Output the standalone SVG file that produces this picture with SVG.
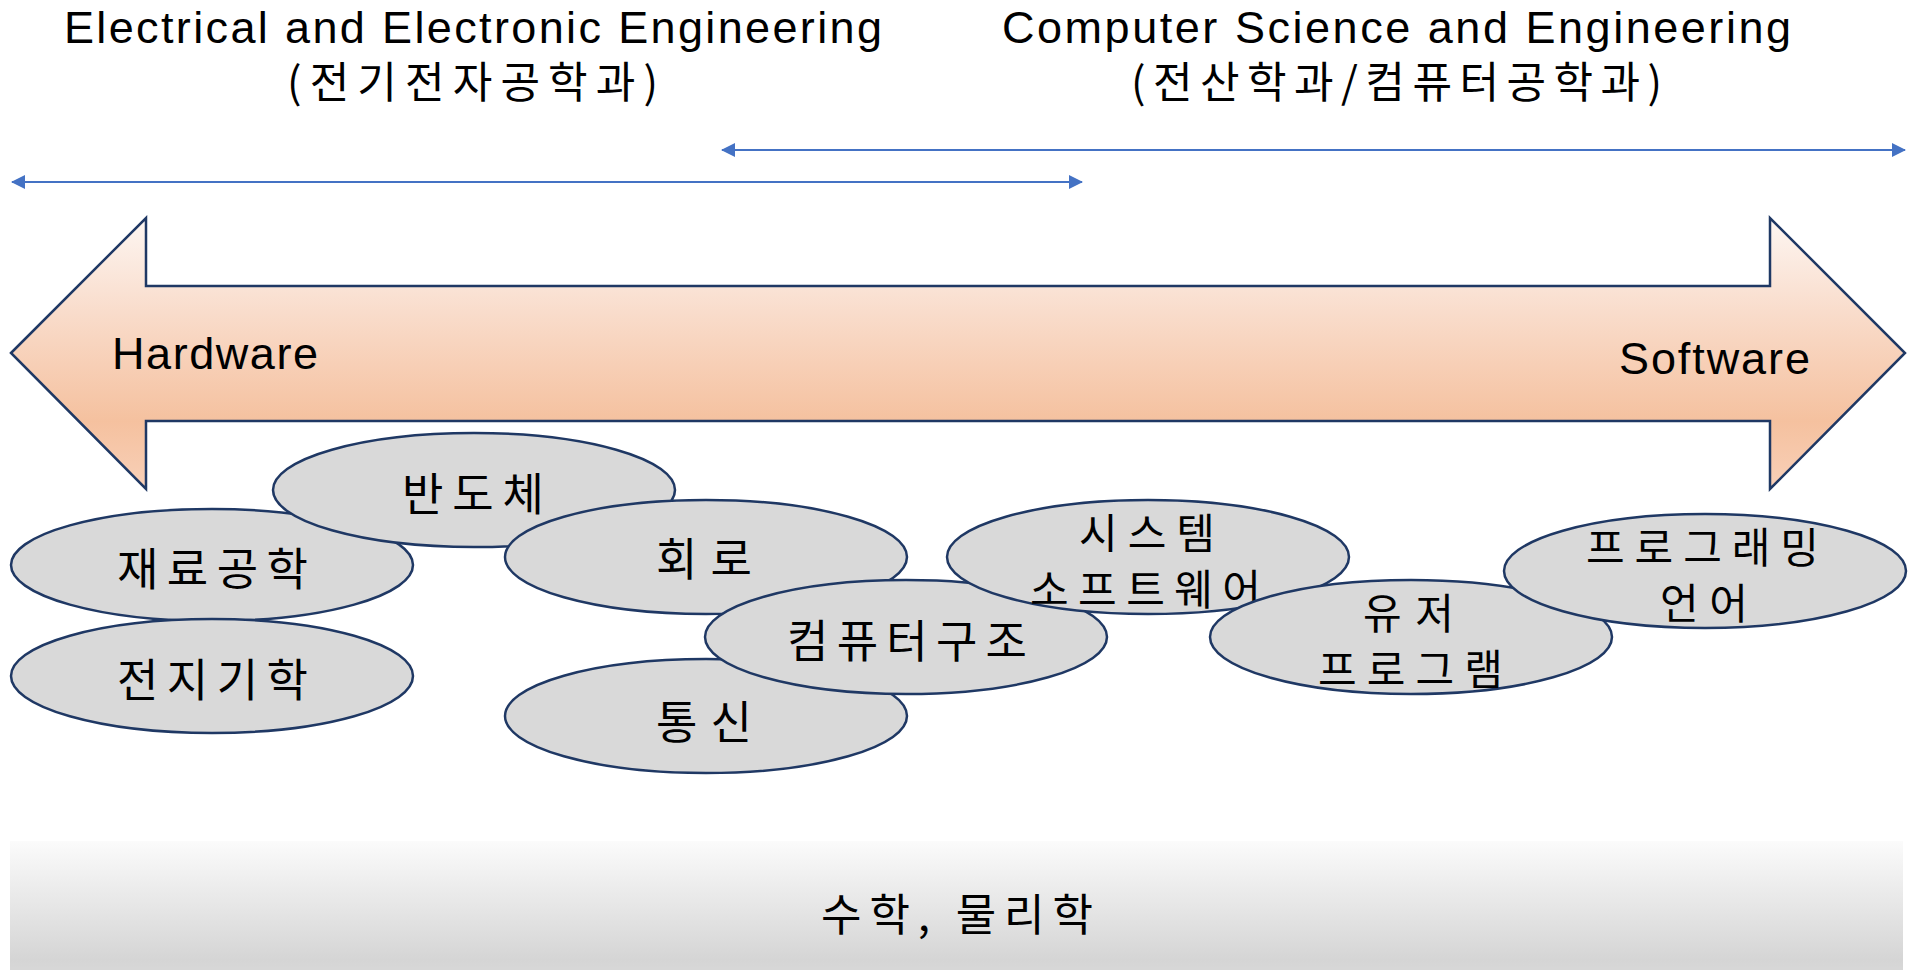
<svg xmlns="http://www.w3.org/2000/svg" width="1913" height="970" viewBox="0 0 1913 970">
  <defs>
    <linearGradient id="arrowGrad" x1="0" y1="0" x2="0" y2="1">
      <stop offset="0" stop-color="#fdf6f2"/>
      <stop offset="0.35" stop-color="#f9dccb"/>
      <stop offset="0.75" stop-color="#f5c19f"/>
      <stop offset="1" stop-color="#f8d0b8"/>
    </linearGradient>
    <linearGradient id="bandGrad" x1="0" y1="0" x2="0" y2="1">
      <stop offset="0" stop-color="#fbfbfb"/>
      <stop offset="0.85" stop-color="#d5d5d5"/>
      <stop offset="1" stop-color="#dadada"/>
    </linearGradient>
    <marker id="tri" viewBox="0 0 14 14" refX="13" refY="7" markerWidth="14" markerHeight="14" markerUnits="userSpaceOnUse" orient="auto-start-reverse">
      <path d="M0 0 L14 7 L0 14 Z" fill="#4472c4"/>
    </marker>
  </defs>
  <style>
    .lat { font-family: "Liberation Sans", Arial, sans-serif; fill: #000; }
    .kr { font-family: "Noto Sans CJK KR", "Liberation Sans", sans-serif; fill: #000; }
    .node ellipse { fill: #d9d9d9; stroke: #1f3864; stroke-width: 2.5; }
    .node text { font-family: "Noto Sans CJK KR", sans-serif; font-size: 45px; fill: #000; }
    .node text.two { font-size: 42px; }
    .conn { stroke: #4472c4; stroke-width: 2; fill: none; }
  </style>

  <rect width="1913" height="970" fill="#ffffff"/>

  <g id="titles">
    <text class="lat" x="64" y="43" font-size="45" textLength="818" lengthAdjust="spacing">Electrical and Electronic Engineering</text>
    <text class="kr" x="287" y="98" font-size="43" textLength="371" lengthAdjust="spacing">(전기전자공학과)</text>
    <text class="lat" x="1002" y="43" font-size="45" textLength="789" lengthAdjust="spacing">Computer Science and Engineering</text>
    <text class="kr" x="1131" y="98" font-size="43" textLength="531" lengthAdjust="spacing">(전산학과/컴퓨터공학과)</text>
  </g>

  <g id="connectors">
    <line class="conn" x1="722" y1="150" x2="1905" y2="150" marker-start="url(#tri)" marker-end="url(#tri)"/>
    <line class="conn" x1="12" y1="182" x2="1082" y2="182" marker-start="url(#tri)" marker-end="url(#tri)"/>
  </g>

  <g id="bigArrow">
    <path d="M 11 353 L 146 218 L 146 286 L 1770 286 L 1770 218 L 1905 353 L 1770 489 L 1770 421 L 146 421 L 146 489 Z" fill="url(#arrowGrad)" stroke="#1f3864" stroke-width="2.5" stroke-linejoin="miter"/>
    <text class="lat" x="112" y="369" font-size="45" textLength="206" lengthAdjust="spacing">Hardware</text>
    <text class="lat" x="1619" y="374" font-size="45" textLength="191" lengthAdjust="spacing">Software</text>
  </g>

  <g id="n-jaeryo" class="node">
    <ellipse cx="212" cy="565" rx="201" ry="56"/>
    <text x="117" y="586" textLength="191" lengthAdjust="spacing">재료공학</text>
  </g>
  <g id="n-jeonji" class="node">
    <ellipse cx="212" cy="676" rx="201" ry="57"/>
    <text x="117" y="697" textLength="191" lengthAdjust="spacing">전지기학</text>
  </g>
  <g id="n-bandoche" class="node">
    <ellipse cx="474" cy="490" rx="201" ry="57"/>
    <text x="402" y="511" textLength="142" lengthAdjust="spacing">반도체</text>
  </g>
  <g id="n-hoero" class="node">
    <ellipse cx="706" cy="557" rx="201" ry="57"/>
    <text x="656" y="576" textLength="96" lengthAdjust="spacing">회로</text>
  </g>
  <g id="n-tongsin" class="node">
    <ellipse cx="706" cy="716" rx="201" ry="57"/>
    <text x="656" y="739" textLength="96" lengthAdjust="spacing">통신</text>
  </g>
  <g id="n-computer" class="node">
    <ellipse cx="906" cy="637" rx="201" ry="57"/>
    <text x="787" y="658" textLength="240" lengthAdjust="spacing">컴퓨터구조</text>
  </g>
  <g id="n-system" class="node">
    <ellipse cx="1148" cy="557" rx="201" ry="57"/>
    <text class="two" x="1079" y="549" textLength="136" lengthAdjust="spacing">시스템</text>
    <text class="two" x="1030" y="605" textLength="231" lengthAdjust="spacing">소프트웨어</text>
  </g>
  <g id="n-user" class="node">
    <ellipse cx="1411" cy="637" rx="201" ry="57"/>
    <text class="two" x="1363" y="629" textLength="91" lengthAdjust="spacing">유저</text>
    <text class="two" x="1318" y="685" textLength="185" lengthAdjust="spacing">프로그램</text>
  </g>
  <g id="n-proglang" class="node">
    <ellipse cx="1705" cy="571" rx="201" ry="57"/>
    <text class="two" x="1586" y="563" textLength="233" lengthAdjust="spacing">프로그래밍</text>
    <text class="two" x="1660" y="619" textLength="88" lengthAdjust="spacing">언어</text>
  </g>

  <g id="base">
    <rect x="10" y="841" width="1893" height="140" fill="url(#bandGrad)"/>
    <text class="kr" x="821" y="931" font-size="44" textLength="272" lengthAdjust="spacing">수학, 물리학</text>
  </g>
</svg>
